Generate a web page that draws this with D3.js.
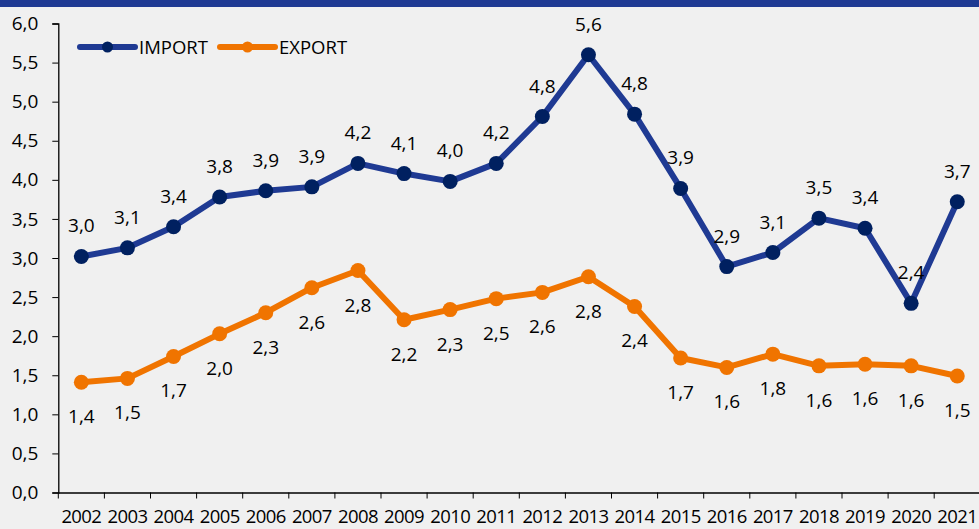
<!DOCTYPE html>
<html>
<head>
<meta charset="utf-8">
<script src="https://cdn.jsdelivr.net/npm/d3@7"></script>
<style>
  body { margin: 0; background: #f0f0f0; }
  svg { display: block; font-family: "Open Sans", "Noto Sans", sans-serif; }
</style>
</head>
<body>
<div id="viz"></div>
<script>
// data
let years = ['2002','2003','2004','2005','2006','2007','2008','2009','2010','2011',
             '2012','2013','2014','2015','2016','2017','2018','2019','2020','2021']
let importValues = [3.02, 3.13, 3.40, 3.78, 3.86, 3.91, 4.21, 4.08, 3.98, 4.21,
                    4.81, 5.60, 4.84, 3.89, 2.89, 3.07, 3.51, 3.38, 2.42, 3.72]
let exportValues = [1.41, 1.46, 1.74, 2.03, 2.30, 2.62, 2.84, 2.21, 2.34, 2.48,
                    2.56, 2.76, 2.38, 1.72, 1.60, 1.77, 1.62, 1.64, 1.62, 1.49]
let yTicks = [0, 0.5, 1, 1.5, 2, 2.5, 3, 3.5, 4, 4.5, 5, 5.5, 6]
let seriesNames = ['IMPORT', 'EXPORT']

let width = 979, height = 529
let fmt = v => d3.format('.1f')(v).replace('.', ',')

let svg = d3.select('#viz')
			.append('svg')
			.attr('width', width)
			.attr('height', height)

svg.append('rect')
	.attr('width', width)
	.attr('height', height)
	.attr('fill', '#f0f0f0')

//cut-off title banner
svg.append('rect')
	.attr('width', width)
	.attr('height', 7)
	.attr('fill', '#1f3a93')

let x = d3.scaleBand()
			.domain(years)
			.range([58.3, 980.3])

let y = d3.scaleLinear()
			.domain([0, 6])
			.range([492.5, 23.5])

//axes
let yAxis = svg.append('g')
				.attr('transform', 'translate(58.3,0)')
				.call(d3.axisLeft(y).tickValues(yTicks).tickFormat(fmt).tickSize(6).tickPadding(14))

let xAxis = svg.append('g')
				.attr('transform', 'translate(0,492.5)')
				.call(d3.axisBottom(x).tickSize(0).tickPadding(17))

//ticks between categories
xAxis.selectAll('.edge')
	.data(years)
	.enter()
	.append('line')
	.attr('x1', d => x(d))
	.attr('x2', d => x(d))
	.attr('y1', 0)
	.attr('y2', 6)
	.attr('stroke', '#000')

svg.selectAll('.domain').attr('stroke', '#000').attr('stroke-width', 1.3)
svg.selectAll('.tick line').attr('stroke', '#000')
svg.selectAll('.tick text')
	.attr('font-size', 19)
	.attr('font-family', '"Open Sans", sans-serif')
	.attr('fill', '#000')
xAxis.selectAll('.tick text').attr('font-size', 18.5).attr('letter-spacing', -0.6)

let cx = d => x(d) + x.bandwidth() / 2

let series = [
	{ name: seriesNames[0], values: importValues, line: '#1f3a93', dot: '#002060', labelDy: -24 },
	{ name: seriesNames[1], values: exportValues, line: '#f07400', dot: '#f07400', labelDy: 41 }
]

let line = d3.line()
				.x((d, i) => cx(years[i]))
				.y(d => y(d))

series.forEach(s => {
	svg.append('path')
		.datum(s.values)
		.attr('d', line)
		.attr('fill', 'none')
		.attr('stroke', s.line)
		.attr('stroke-width', 6)
		.attr('stroke-linejoin', 'round')

	svg.append('g')
		.selectAll('circle')
		.data(s.values)
		.enter()
		.append('circle')
		.attr('cx', (d, i) => cx(years[i]))
		.attr('cy', d => y(d))
		.attr('r', 7.5)
		.attr('fill', s.dot)

	svg.append('g')
		.selectAll('text')
		.data(s.values)
		.enter()
		.append('text')
		.attr('x', (d, i) => cx(years[i]))
		.attr('y', d => y(d) + s.labelDy)
		.attr('text-anchor', 'middle')
		.attr('font-size', 19)
		.attr('fill', '#000')
		.text(d => fmt(d))
})

//legend
let legend = svg.append('g')
legend.selectAll('g')
	.data(series)
	.enter()
	.append('g')
	.attr('transform', (d, i) => `translate(${80 + i * 140},47)`)
	.each(function (d) {
		let g = d3.select(this)
		g.append('line')
			.attr('x1', 0).attr('x2', 55)
			.attr('stroke', d.line)
			.attr('stroke-width', 6)
			.attr('stroke-linecap', 'round')
		g.append('circle')
			.attr('cx', 27.5)
			.attr('r', 5.5)
			.attr('fill', d.dot)
		g.append('text')
			.attr('x', 59)
			.attr('y', 7)
			.attr('font-size', 18.5)
			.attr('fill', '#000')
			.text(d.name)
	})
</script>
</body>
</html>
